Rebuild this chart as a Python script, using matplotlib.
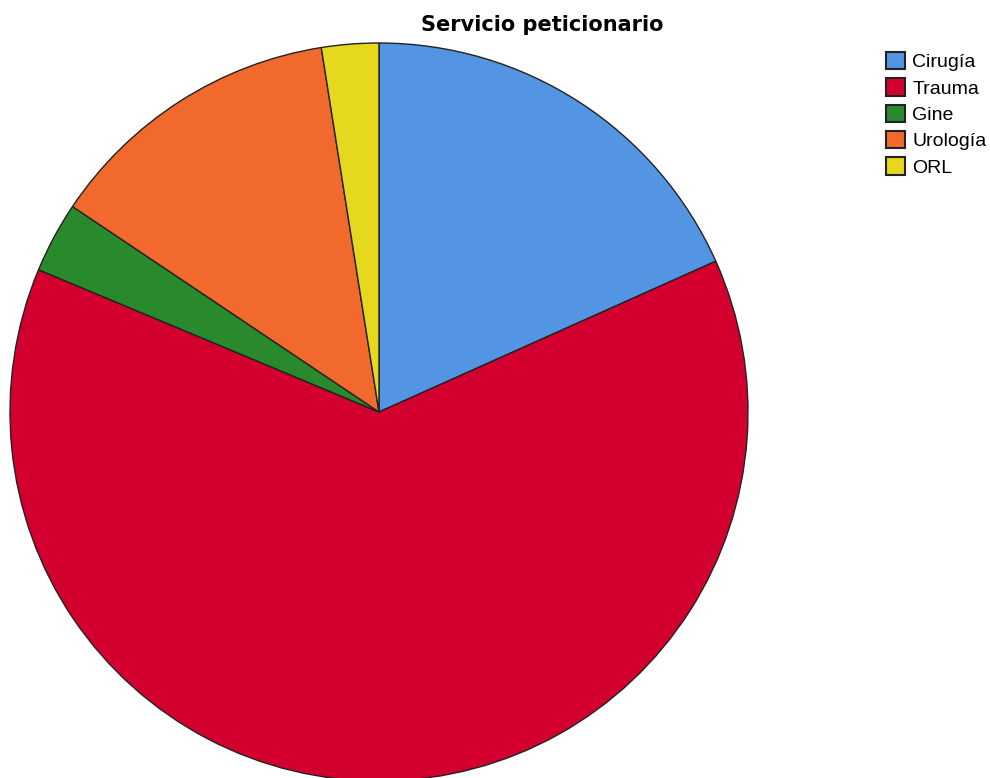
import matplotlib.pyplot as plt

plt.rcParams['font.family'] = ['Liberation Sans', 'DejaVu Sans']

servicios = ["Cirugía", "Trauma", "Gine", "Urología", "ORL"]
porcentajes = [18.3, 63.0, 3.1, 13.1, 2.5]
colores = ["#5394E3", "#D3002F", "#288A2C", "#F1692C", "#E5D81E"]

W, H = 990, 778
fig = plt.figure(figsize=(W / 100, H / 100), dpi=100)
ax = fig.add_axes([0, 0, 1, 1])

wedges, _ = ax.pie(porcentajes, colors=colores, startangle=90, counterclock=False,
                   center=(379, H - 412), radius=369, frame=True,
                   wedgeprops=dict(edgecolor="#222222", linewidth=1.0))
ax.set_xlim(0, W)
ax.set_ylim(0, H)
ax.set_aspect("equal")
ax.axis("off")

fig.text(542 / W, 1 - 31 / H, "Servicio peticionario", ha="center", va="baseline",
         fontsize=15, fontweight="bold", family="DejaVu Sans")

leg = fig.legend(wedges, servicios, loc="upper left",
                 bbox_to_anchor=(886 / W, 1 - 52 / H), frameon=False,
                 fontsize=14, handlelength=1.0, handleheight=1.0,
                 handletextpad=0.36, labelspacing=0.36, borderpad=0,
                 borderaxespad=0)
for p in leg.get_patches():
    p.set_linewidth(1.5)

fig.savefig("out.png", dpi=100)
